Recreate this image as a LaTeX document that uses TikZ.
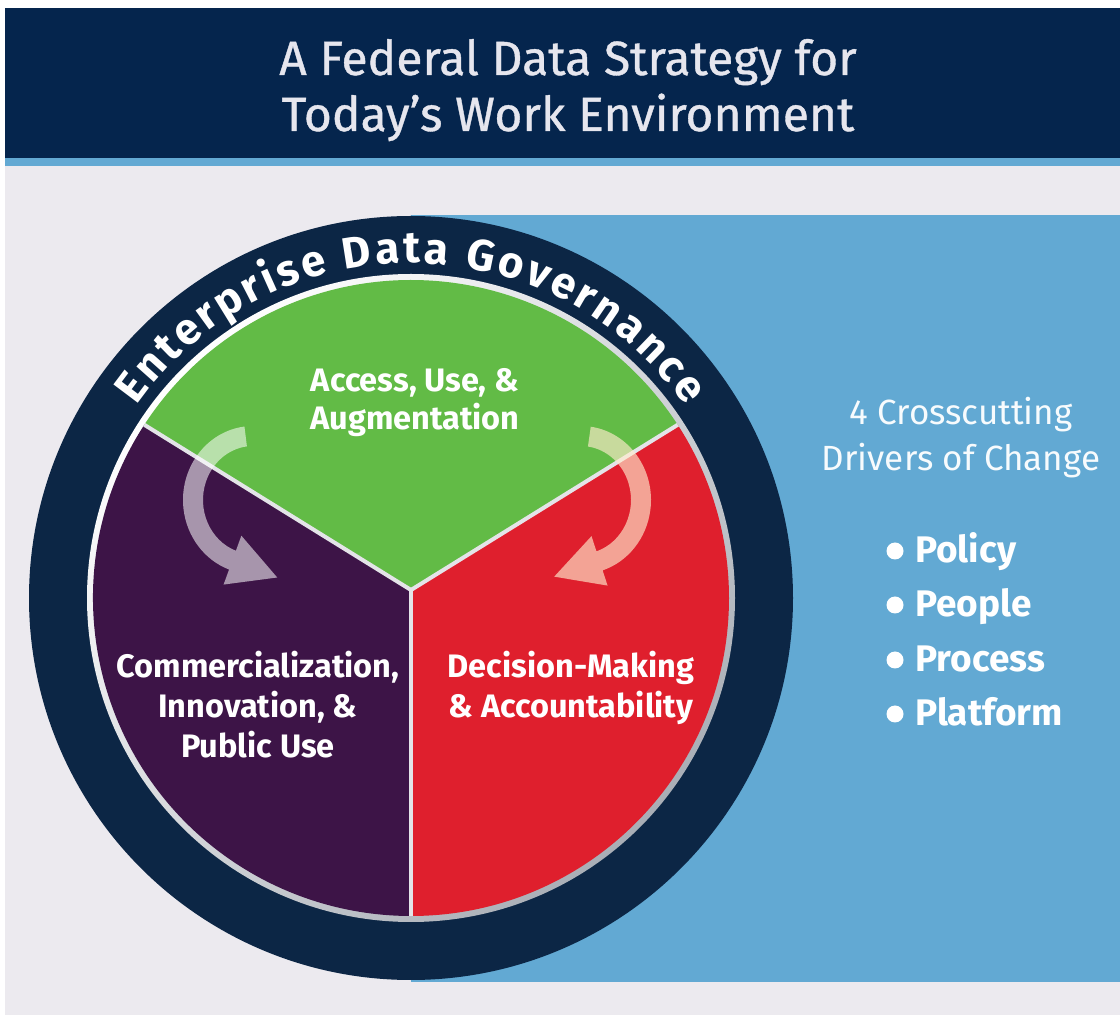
\documentclass[tikz,border=0pt]{standalone}
\usepackage{fontspec}
\setmainfont{Fira Sans}
\newfontfamily\titlefont[FakeBold=0.8]{Fira Sans}
\usetikzlibrary{calc,decorations.text}
\definecolor{hdrnavy}{HTML}{05254D}
\definecolor{stripeblue}{HTML}{63A9D3}
\definecolor{bggray}{HTML}{ECEAEF}
\definecolor{panelblue}{HTML}{62A9D3}
\definecolor{ringnavy}{HTML}{0C2645}
\definecolor{secgreen}{HTML}{62BB46}
\definecolor{secpurple}{HTML}{3D1447}
\definecolor{secred}{HTML}{DF1F2D}
\definecolor{divline}{HTML}{E4E4E8}
\definecolor{rimgray}{HTML}{A9AEB6}
\definecolor{titletxt}{HTML}{E6E6EE}
\definecolor{peach}{HTML}{FFEBCD}
\newcommand\ringfmt{\fontsize{44}{46}\selectfont\bfseries}
\tikzset{
  titletext/.style={font=\titlefont\fontsize{48}{54}\selectfont, text=titletxt, inner sep=0pt},
  seclabel/.style={font=\fontsize{32.5}{38}\selectfont\bfseries, text=white, inner sep=0pt, anchor=base},
  sidetext/.style={font=\fontsize{35}{40}\selectfont, text=white!95!stripeblue, inner sep=0pt, anchor=base},
  bullettext/.style={font=\fontsize{37}{42}\selectfont\bfseries, text=white, inner sep=0pt, anchor=base west},
  divider/.style={draw=divline, line width=4pt},
  arrowleft/.style={fill=white, fill opacity=0.55},
  arrowright/.style={fill=peach, fill opacity=0.65},
}
\begin{document}
\begin{tikzpicture}[x=1pt,y=1pt]
\useasboundingbox (0,0) rectangle (1120,1021);
\fill[white] (0,0) rectangle (1120,1021);
\fill[bggray] (5,6) rectangle (1120,1013);
\fill[hdrnavy] (5,863) rectangle (1120,1013);
\fill[stripeblue] (5,855) rectangle (1120,863);
\fill[panelblue] (411,39) rectangle (1120,806);

% title
\node[titletext, anchor=base] (t1) at (568,946) {A Federal Data Strategy for};
\node[titletext, anchor=base] (t2) at (568,890) {Today’s Work Environment};

% ring
\coordinate (O) at (411,423);
\coordinate (J) at (411,431);
\fill[ringnavy] (O) circle (382);
\shade[top color=white, bottom color=rimgray, shading angle=45] (O) circle (324);
\fill[secgreen] (J) -- ($(O)+(33:318)$) arc[start angle=33, end angle=147, radius=318] -- cycle;
\fill[secpurple] (J) -- ($(O)+(147:318)$) arc[start angle=147, end angle=270, radius=318] -- cycle;
\fill[secred] (J) -- ($(O)+(270:318)$) arc[start angle=270, end angle=393, radius=318] -- cycle;
\draw[divider] (J) -- ($(O)+(147:318)$);
\draw[divider] (J) -- ($(O)+(33:318)$);
\draw[divider] (J) -- ($(O)+(270:318)$);

% ring text
\path[decorate, decoration={text along path, text={|\ringfmt|Enterprise Data Governance}, text align={fit to path}, text color=white}]
  ($(O)+(145:335)$) arc[start angle=145, end angle=35, radius=335];

% arrows
\coordinate (C1) at (253,521);
\coordinate (C2) at (581,521);
\fill[arrowleft] ($(C1)+(97:70 and 74)$) arc[start angle=97, end angle=250, x radius=70, y radius=74]
  -- ($(C1)+(250:86 and 90)$) -- ($(C1)+(250:60 and 64)+(338.8:48)$) -- ($(C1)+(250:34 and 38)$)
  -- ($(C1)+(250:50 and 54)$) arc[start angle=250, end angle=97, x radius=50, y radius=54] -- cycle;
\fill[arrowright] ($(C2)+(82:70 and 74)$) arc[start angle=82, end angle=-72, x radius=70, y radius=74]
  -- ($(C2)+(-72:86 and 90)$) -- ($(C2)+(-72:60 and 64)+(199.2:48)$) -- ($(C2)+(-72:34 and 38)$)
  -- ($(C2)+(-72:50 and 54)$) arc[start angle=-72, end angle=82, x radius=50, y radius=54] -- cycle;

% sector labels
\node[seclabel] (a1) at (415,629) {Access, Use, \&};
\node[seclabel] (a2) at (415,591) {Augmentation};
\node[seclabel] (c1) at (258,343) {Commercialization,};
\node[seclabel] (c2) at (258,303) {Innovation, \&};
\node[seclabel] (c3) at (258,263) {Public Use};
\node[seclabel] (d1) at (571,343) {Decision-Making};
\node[seclabel] (d2) at (571,303) {\& Accountability};

% right side
\node[sidetext] (r1) at (961,596) {4 Crosscutting};
\node[sidetext] (r2) at (961,550) {Drivers of Change};
\foreach \y/\name/\txt in {458/b1/Policy, 404/b2/People, 349/b3/Process, 295/b4/Platform}{
  \fill[white] (895,\y+12) circle (8.5);
  \node[bullettext] (\name) at (915,\y) {\txt};
}
\end{tikzpicture}
\end{document}
